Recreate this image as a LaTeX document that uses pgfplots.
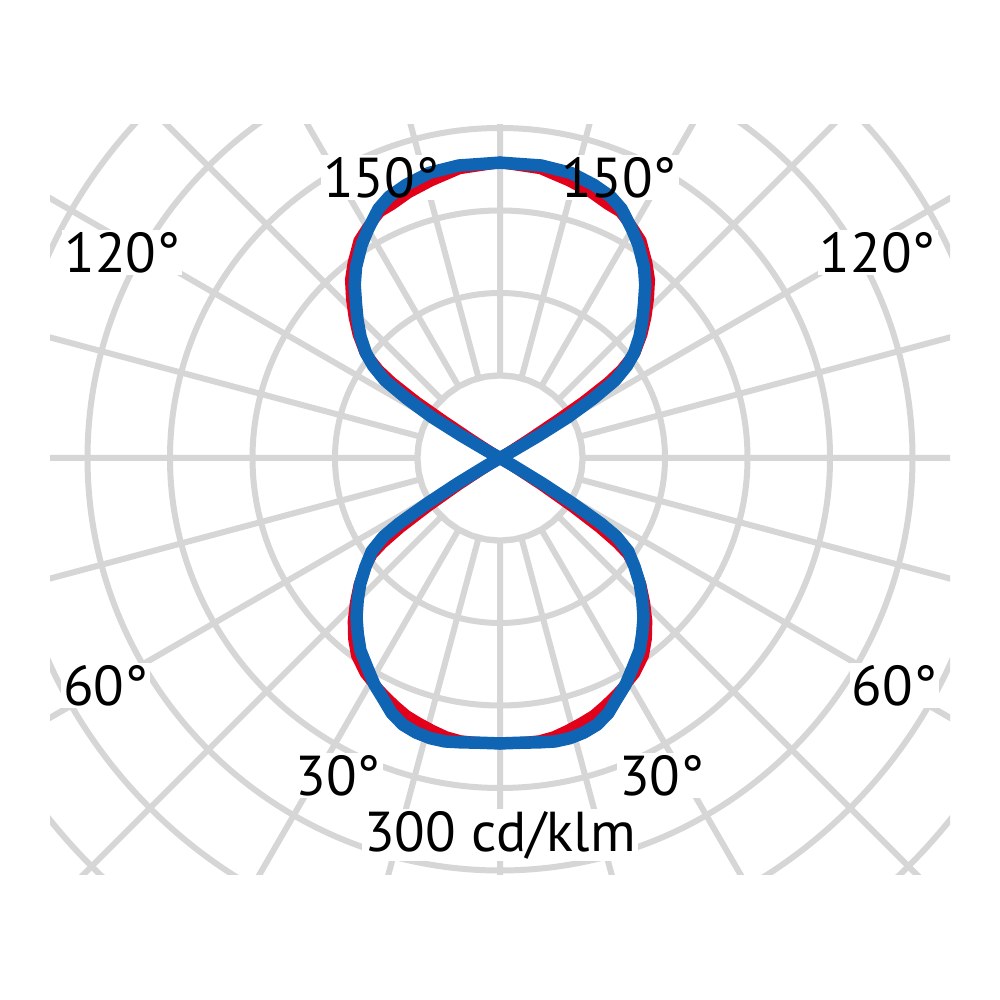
\documentclass[border=0pt]{standalone}
\usepackage{fontspec}
\setmainfont{PT Sans}
\usepackage{pgfplots}
\usepackage{pgfplotstable}
\usepgfplotslibrary{polar}
\pgfplotsset{compat=1.18}

\definecolor{gridc}{RGB}{214,214,214}
\definecolor{redc}{RGB}{226,0,26}
\definecolor{bluec}{RGB}{16,100,180}

% luminous intensity, cd/klm, over gamma (0 = down, 180 = up)
\pgfplotstableread{
g I
0 173
4 173
8 174
11 175
14 175
17 174
20 172
23 168
26 162
29 157
32 151
36 144
39 137
42 130
45 122
48 114
51 105
54 96
56 85
57 73
58 52
59 30
60 9
60.5 0
90 0
118.5 0
119 9
120 27
121 48
122.5 67
124 84
126 95
128 103
131 112
134 120
137 128
140 137
143 145
147 154
150 160
154 168
157 172
161 175
166 178
172 179
180 179
}\bluetab

\pgfplotstableread{
g I
0 173
4 173
8 173
11 172
14 170
17 168
20 166
23 163
26 160
29 157
32 154
36 148
39 141
42 133
45 124
48 115
51 105
53 97
54 88
55 74
56 53
57 30
57.5 13
58 0
90 0
122.5 0
123 21
123.5 42
124 61
125 80
126 91
128 104
131 114
134 123
137 132
140 141
143 148
147 157
150 161
154 166
157 167
161 170
166 173
172 177
180 179
}\redtab

\pgfplotstableread{
a r
0 50
10 50
20 50
30 50
40 50
50 50
60 50
70 50
80 50
90 50
100 50
110 50
120 50
130 50
140 50
150 50
160 50
170 50
180 50
190 50
200 50
210 50
220 50
230 50
240 50
250 50
260 50
270 50
280 50
290 50
300 50
310 50
320 50
330 50
340 50
350 50
360 50
}\innertab

\newcommand\anglelabels[1]{%
  \node[#1] at (axis cs:113,184.5) {150°};
  \node[#1] at (axis cs:67,184.5) {150°};
  \node[#1] at (axis cs:151.5,260.5) {120°};
  \node[#1] at (axis cs:28.5,260.5) {120°};
  \node[#1] at (axis cs:210,276) {60°};
  \node[#1] at (axis cs:-30,276) {60°};
  \node[#1] at (axis cs:243,216) {30°};
  \node[#1] at (axis cs:-63,216) {30°};
  \node[#1] at (axis cs:-90,228.5) {300 cd/klm};
}

\begin{document}
\begin{tikzpicture}[
  lbl/.style={inner sep=0.6pt, font=\fontsize{16}{18}\selectfont},
  lblbox/.style={lbl, fill=white, text opacity=0}]
\fill[white] (0,0) rectangle (100mm,100mm);
\begin{scope}
\clip (5mm,12.5mm) rectangle (95mm,87.5mm);
\begin{polaraxis}[
  at={(50mm,54.2mm)}, anchor=origin,
  scale only axis, width=123.75mm, height=123.75mm,
  ymin=0, ymax=375,
  xtick={0,15,...,345}, ytick={50,100,...,350},
  xticklabels={}, yticklabels={},
  grid=major,
  major grid style={draw=gridc, line width=0.6mm},
  axis line style={draw=none},
  major tick length=0pt,
  clip=false]
\anglelabels{lblbox}
\addplot[fill=white, draw=gridc, line width=0.6mm] table[x=a, y=r]{\innertab};
\addplot[redc, line width=1.1mm, line join=round, line cap=round] table[x expr=\thisrow{g}-90, y=I]{\redtab};
\addplot[redc, line width=1.1mm, line join=round, line cap=round] table[x expr=-90-\thisrow{g}, y=I]{\redtab};
\addplot[bluec, line width=1.25mm, line join=round, line cap=round] table[x expr=\thisrow{g}-90, y=I]{\bluetab};
\addplot[bluec, line width=1.25mm, line join=round, line cap=round] table[x expr=-90-\thisrow{g}, y=I]{\bluetab};
\anglelabels{lbl}
\end{polaraxis}
\end{scope}
\end{tikzpicture}
\end{document}
